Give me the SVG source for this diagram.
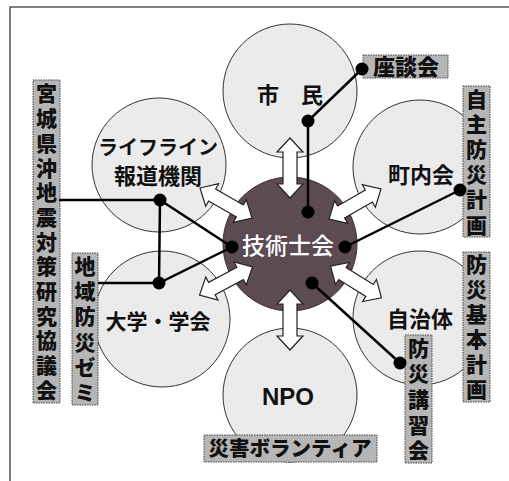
<svg xmlns="http://www.w3.org/2000/svg" width="509" height="481" viewBox="0 0 509 481">
<style>
.bg{fill:#ffffff}
.frame{fill:none;stroke:#555;stroke-width:1.5}
.outer{fill:#ebebeb;stroke:#333;stroke-width:1}
.core{fill:#5c4b53;stroke:#3a2e34;stroke-width:1}
.t{font-family:"Noto Sans CJK JP","Liberation Sans",sans-serif;font-weight:bold;fill:#111;text-anchor:middle}
.tw{font-family:"Noto Sans CJK JP","Liberation Sans",sans-serif;font-weight:500;fill:#fff;text-anchor:middle}
.npo{font-family:"Liberation Sans",Arial,sans-serif;font-weight:bold;fill:#111;text-anchor:middle}
.lb{fill:#b6b6b6;stroke:#444;stroke-width:1;stroke-dasharray:1.5 1}
.lt{font-family:"Noto Sans CJK JP","Liberation Sans",sans-serif;font-weight:900;fill:#111;text-anchor:middle}
.vt{font-family:"Noto Sans CJK JP","Liberation Sans",sans-serif;font-weight:900;fill:#111;font-size:21px;writing-mode:vertical-rl;text-orientation:upright;text-anchor:start}
.arr{fill:#fff;stroke:#222;stroke-width:1.2;stroke-linejoin:miter}
.ln{fill:none;stroke:#000;stroke-width:2.5}
.dot{fill:#000}
</style>
<defs>
<path id="dbl" d="M-30,0 L-16,-13 L-16,-7 L16,-7 L16,-13 L30,0 L16,13 L16,7 L-16,7 L-16,13 Z"/>
</defs>
<rect class="bg" x="0" y="0" width="509" height="481"/>
<path class="frame" d="M10,481 V7 H509"/>

<g id="node-shimin">
<circle class="outer" cx="290" cy="91" r="67"/>
<text class="t" x="290" y="103" font-size="22">市　民</text>
</g>
<g id="node-lifeline">
<circle class="outer" cx="159" cy="165" r="67"/>
<text class="t" x="158" y="155" font-size="20">ライフライン</text>
<text class="t" x="158" y="184" font-size="22">報道機関</text>
</g>
<g id="node-chonaikai">
<circle class="outer" cx="420" cy="167" r="67"/>
<text class="t" x="421" y="183" font-size="22">町内会</text>
</g>
<g id="node-daigaku">
<circle class="outer" cx="162" cy="319" r="68"/>
<text class="t" x="158" y="329" font-size="21">大学・学会</text>
</g>
<g id="node-jichitai">
<circle class="outer" cx="420" cy="318" r="67"/>
<text class="t" x="420" y="327" font-size="22">自治体</text>
</g>
<g id="node-npo">
<circle class="outer" cx="290" cy="395" r="67"/>
<text class="npo" x="288" y="405" font-size="24">NPO</text>
</g>
<g id="node-gijutsushikai">
<circle class="core" cx="290" cy="244" r="67"/>
<text class="tw" x="288" y="254" font-size="23">技術士会</text>
</g>

<g id="label-zadankai">
<rect class="lb" x="363" y="55" width="85" height="23"/>
<text class="lt" x="406" y="74.5" font-size="22">座談会</text>
</g>
<g id="label-jishubosai">
<rect class="lb" x="463" y="86" width="27" height="151"/>
<text class="vt" x="476.5" y="88.1" letter-spacing="4.2">自主防災計画</text>
</g>
<g id="label-bosaikihon">
<rect class="lb" x="463" y="252" width="27" height="150"/>
<text class="vt" x="476.5" y="254" letter-spacing="4">防災基本計画</text>
</g>
<g id="label-bosaikoshu">
<rect class="lb" x="405" y="335" width="27" height="128"/>
<text class="vt" x="418.5" y="337.3" letter-spacing="4.6">防災講習会</text>
</g>
<g id="label-volunteer">
<rect class="lb" x="204" y="435" width="173" height="27"/>
<text class="lt" x="290" y="456" font-size="20.5">災害ボランティア</text>
</g>
<g id="label-miyagi">
<rect class="lb" x="33" y="80" width="27" height="323"/>
<text class="vt" x="46.5" y="83" letter-spacing="3.7">宮城県沖地震対策研究協議会</text>
</g>
<g id="label-chiikibosai">
<rect class="lb" x="72" y="253" width="26" height="152"/>
<text class="vt" x="85" y="255.2" letter-spacing="4.3">地域防災ゼミ</text>
</g>

<g id="connectors">
<use href="#dbl" class="arr" transform="translate(290,168) rotate(90)"/>
<use href="#dbl" class="arr" transform="translate(290,320) rotate(90)"/>
<use href="#dbl" class="arr" transform="translate(226,203) rotate(30)"/>
<use href="#dbl" class="arr" transform="translate(355,204) rotate(-30)"/>
<use href="#dbl" class="arr" transform="translate(226,281) rotate(-28)"/>
<use href="#dbl" class="arr" transform="translate(356,282) rotate(32)"/>
<path class="ln" d="M308,121 L362,69 M308,121 V212"/>
<path class="ln" d="M345,247 L460,190"/>
<path class="ln" d="M312,283 L400,363"/>
<path class="ln" d="M59,200 H160 L232,247 M160,200 L159,283 M98,283 H159 L232,247"/>
<circle class="dot" cx="308" cy="121" r="6.5"/>
<circle class="dot" cx="362" cy="69" r="6.5"/>
<circle class="dot" cx="308" cy="212" r="6.5"/>
<circle class="dot" cx="345" cy="247" r="6.5"/>
<circle class="dot" cx="460" cy="190" r="6.5"/>
<circle class="dot" cx="312" cy="283" r="6.5"/>
<circle class="dot" cx="400" cy="363" r="6.5"/>
<circle class="dot" cx="160" cy="200" r="6.5"/>
<circle class="dot" cx="159" cy="283" r="6.5"/>
<circle class="dot" cx="232" cy="247" r="6.5"/>
</g>
</svg>
